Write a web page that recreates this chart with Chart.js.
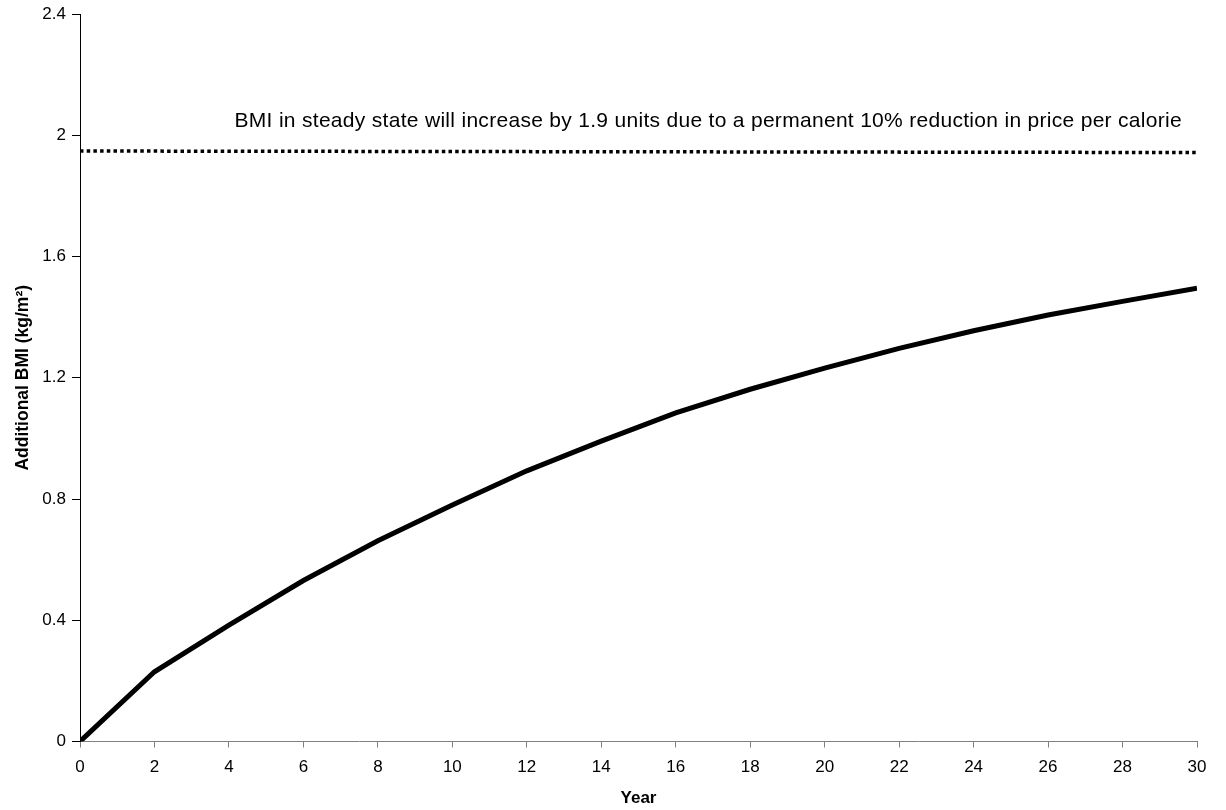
<!DOCTYPE html>
<html>
<head>
<meta charset="utf-8">
<title>Additional BMI over time</title>
<script src="https://cdn.jsdelivr.net/npm/chart.js@4.4.1/dist/chart.umd.min.js"></script>
<style>
    html, body { margin: 0; padding: 0; background: #ffffff; }
    #wrap { width: 1226px; height: 810px; }
</style>
</head>
<body>
<div id="wrap"><canvas id="bmiChart" width="1226" height="810"></canvas></div>
<script>
// years on the x axis
var years = [0, 2, 4, 6, 8, 10, 12, 14, 16, 18, 20, 22, 24, 26, 28, 30];
// extra BMI over time
var bmiPath = [0, 0.23, 0.384, 0.531, 0.662, 0.78, 0.893, 0.991, 1.084, 1.162, 1.232, 1.297, 1.355, 1.407, 1.452, 1.495];
// steady state level, dotted line
var steadyYears = [0, 30];
var steadyLevel = [1.948, 1.943];
var yTicks = [0, 0.4, 0.8, 1.2, 1.6, 2, 2.4];
var note = 'BMI in steady state will increase by 1.9 units due to a permanent 10% reduction in price per calorie';

var fontName = '"Liberation Sans", Arial, Helvetica, sans-serif';

function toPoints(xs, ys) {
    return xs.map(function (x, i) { return { x: x, y: ys[i] }; });
}

// draws the note above the dotted line
var notePlugin = {
    id: 'steadyNote',
    afterDatasetsDraw: function (chart) {
        var ctx = chart.ctx;
        var xs = chart.scales.x, ys = chart.scales.y;
        ctx.save();
        ctx.font = '21px ' + fontName;
        ctx.letterSpacing = '0.3px';
        ctx.fillStyle = '#000';
        ctx.textAlign = 'right';
        ctx.textBaseline = 'alphabetic';
        ctx.fillText(note, xs.getPixelForValue(30) - 15, ys.getPixelForValue(2.028));
        ctx.restore();
    }
};

var ctx = document.getElementById('bmiChart').getContext('2d');

var bmiChart = new Chart(ctx, {
    type: 'line',
    data: {
        datasets: [{
            label: 'Additional BMI',
            data: toPoints(years, bmiPath),
            borderColor: '#000',
            borderWidth: 5,
            pointRadius: 0,
            tension: 0,
            fill: false
        }, {
            label: 'Steady state',
            data: toPoints(steadyYears, steadyLevel),
            borderColor: '#000',
            borderWidth: 3.5,
            borderDash: [3.5, 3.2],
            pointRadius: 0,
            fill: false
        }]
    },
    options: {
        responsive: false,
        animation: false,
        layout: {
            padding: { left: 0, right: 29, top: 14, bottom: 0 }
        },
        plugins: {
            legend: { display: false },
            tooltip: { enabled: false }
        },
        scales: {
            x: {
                type: 'linear',
                min: 0,
                max: 30,
                afterBuildTicks: function (scale) {
                    scale.ticks = years.map(function (v) { return { value: v }; });
                },
                afterFit: function (scale) { scale.height = 68.5; },
                grid: {
                    drawOnChartArea: false,
                    drawTicks: true,
                    tickLength: 6,
                    color: '#808080'
                },
                border: { display: true, color: '#808080', width: 1 },
                ticks: {
                    color: '#000',
                    padding: 10,
                    maxRotation: 0,
                    font: { family: fontName, size: 17 }
                },
                title: {
                    display: true,
                    text: 'Year',
                    color: '#000',
                    padding: { top: 0, bottom: 1.8 },
                    font: { family: fontName, size: 17, weight: 'bold' }
                }
            },
            y: {
                min: 0,
                max: 2.4,
                afterBuildTicks: function (scale) {
                    scale.ticks = yTicks.map(function (v) { return { value: v }; });
                },
                afterFit: function (scale) {
                    scale.width = 80;
                    scale.paddingTop = 0;
                },
                grid: {
                    drawOnChartArea: false,
                    drawTicks: true,
                    tickLength: 8,
                    color: '#000'
                },
                border: { display: true, color: '#000', width: 1 },
                ticks: {
                    color: '#000',
                    padding: 6,
                    font: { family: fontName, size: 17 },
                    callback: function (v) { return String(v); }
                },
                title: {
                    display: true,
                    text: 'Additional BMI (kg/m\u00B2)',
                    color: '#000',
                    padding: { top: 12.5, bottom: 0 },
                    font: { family: fontName, size: 17.5, weight: 'bold' }
                }
            }
        }
    },
    plugins: [notePlugin]
});
</script>
</body>
</html>
